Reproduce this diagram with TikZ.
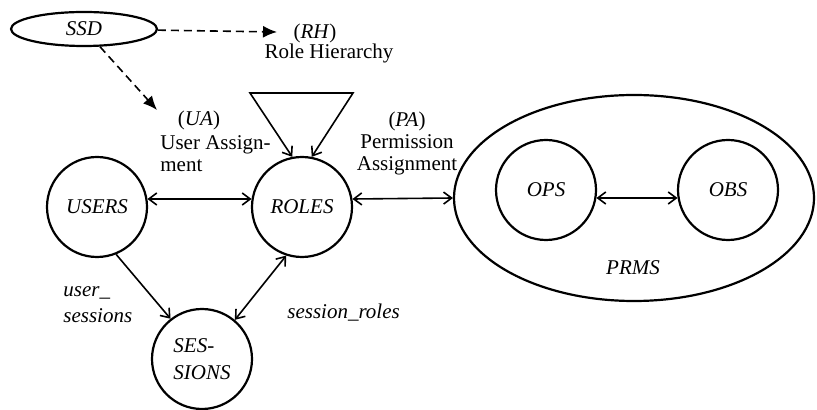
\documentclass[tikz,border=0pt]{standalone}
\usepackage{fontspec}
\setmainfont{Liberation Serif}
\usetikzlibrary{arrows.meta,shapes.geometric}
\tikzset{
	entity/.style={circle,draw,line width=1.1pt,minimum size=50pt,inner sep=0pt,align=left,
		font=\fontsize{10.5}{13.5}\selectfont\itshape},
	lbl/.style={inner sep=0pt,font=\fontsize{10.5}{11}\selectfont},
	barb/.tip={Straight Barb[length=4pt,width=6pt,line width=0.8pt]},
	rel/.style={line width=0.8pt},
	dasharrow/.style={line width=0.8pt,dash pattern=on 4pt off 2.5pt,-{Latex[length=7pt,width=6pt]}}
}
\begin{document}
\begin{tikzpicture}[x=0.5pt,y=-0.5pt]
					\useasboundingbox (0,0) rectangle (817,410);
					%ENTITIES
					\node[ellipse,draw,line width=1.1pt,minimum width=73pt,minimum height=17pt,inner sep=0pt,
						font=\fontsize{10.5}{11}\selectfont\itshape] (ssd) at (84,29) {SSD};
					\node[entity] (users) at (97,207) {USERS};
					\node[entity] (roles) at (302,207) {ROLES};
					\node[entity] (sessions) at (202,359) {SES-\\SIONS};
					\node[ellipse,draw,line width=1.1pt,minimum width=180pt,minimum height=103pt] (prms) at (634,198) {};
					\node[entity] (ops) at (546,190) {OPS};
					\node[entity] (obs) at (728,190) {OBS};
					\node[lbl,font=\fontsize{10.5}{11}\selectfont\itshape] (prmslbl) at (633,268) {PRMS};
					%LABELS
					\node[lbl] (rhtag) at (315,33) {(\textit{RH})};
					\node[lbl] (rhtext) at (329,53) {Role Hierarchy};
					\node[lbl] (uatag) at (199,120) {(\textit{UA})};
					\node[lbl,anchor=west,align=left] (uatext) at (160,154) {User Assign-\\ment};
					\node[lbl,align=center] (patext) at (407,143) {(\textit{PA})\\Permission\\Assignment};
					\node[lbl,anchor=west,align=left,font=\fontsize{10.5}{13}\selectfont\itshape] (uslbl) at (63,305) {user\_\\sessions};
					\node[lbl,anchor=west,font=\fontsize{10.5}{11}\selectfont\itshape] (srlbl) at (287,313) {session\_roles};
					\coordinate (rhtip) at (277,32);
					\coordinate (uatip) at (157,110);
					\coordinate (hierL) at (250,93);
					\coordinate (hierR) at (353,93);
					%SSD CONSTRAINTS
					\draw[dasharrow] (ssd) -- (rhtip);
					\draw[dasharrow] (ssd) -- (uatip);
					%RELATIONS
					\draw[rel,barb-barb] (roles.101) -- (hierL) -- (hierR) -- (roles.79);
					\draw[rel,barb-barb] (users.9) -- (roles.171);
					\draw[rel,barb-barb] (roles.9) -- (prms.west);
					\draw[rel,barb-barb] (ops.-9) -- (obs.189);
					\draw[rel,-barb] (users.-68) -- (sessions.128);
					\draw[rel,barb-barb] (roles.-108) -- (sessions.50);
\end{tikzpicture}
\end{document}
